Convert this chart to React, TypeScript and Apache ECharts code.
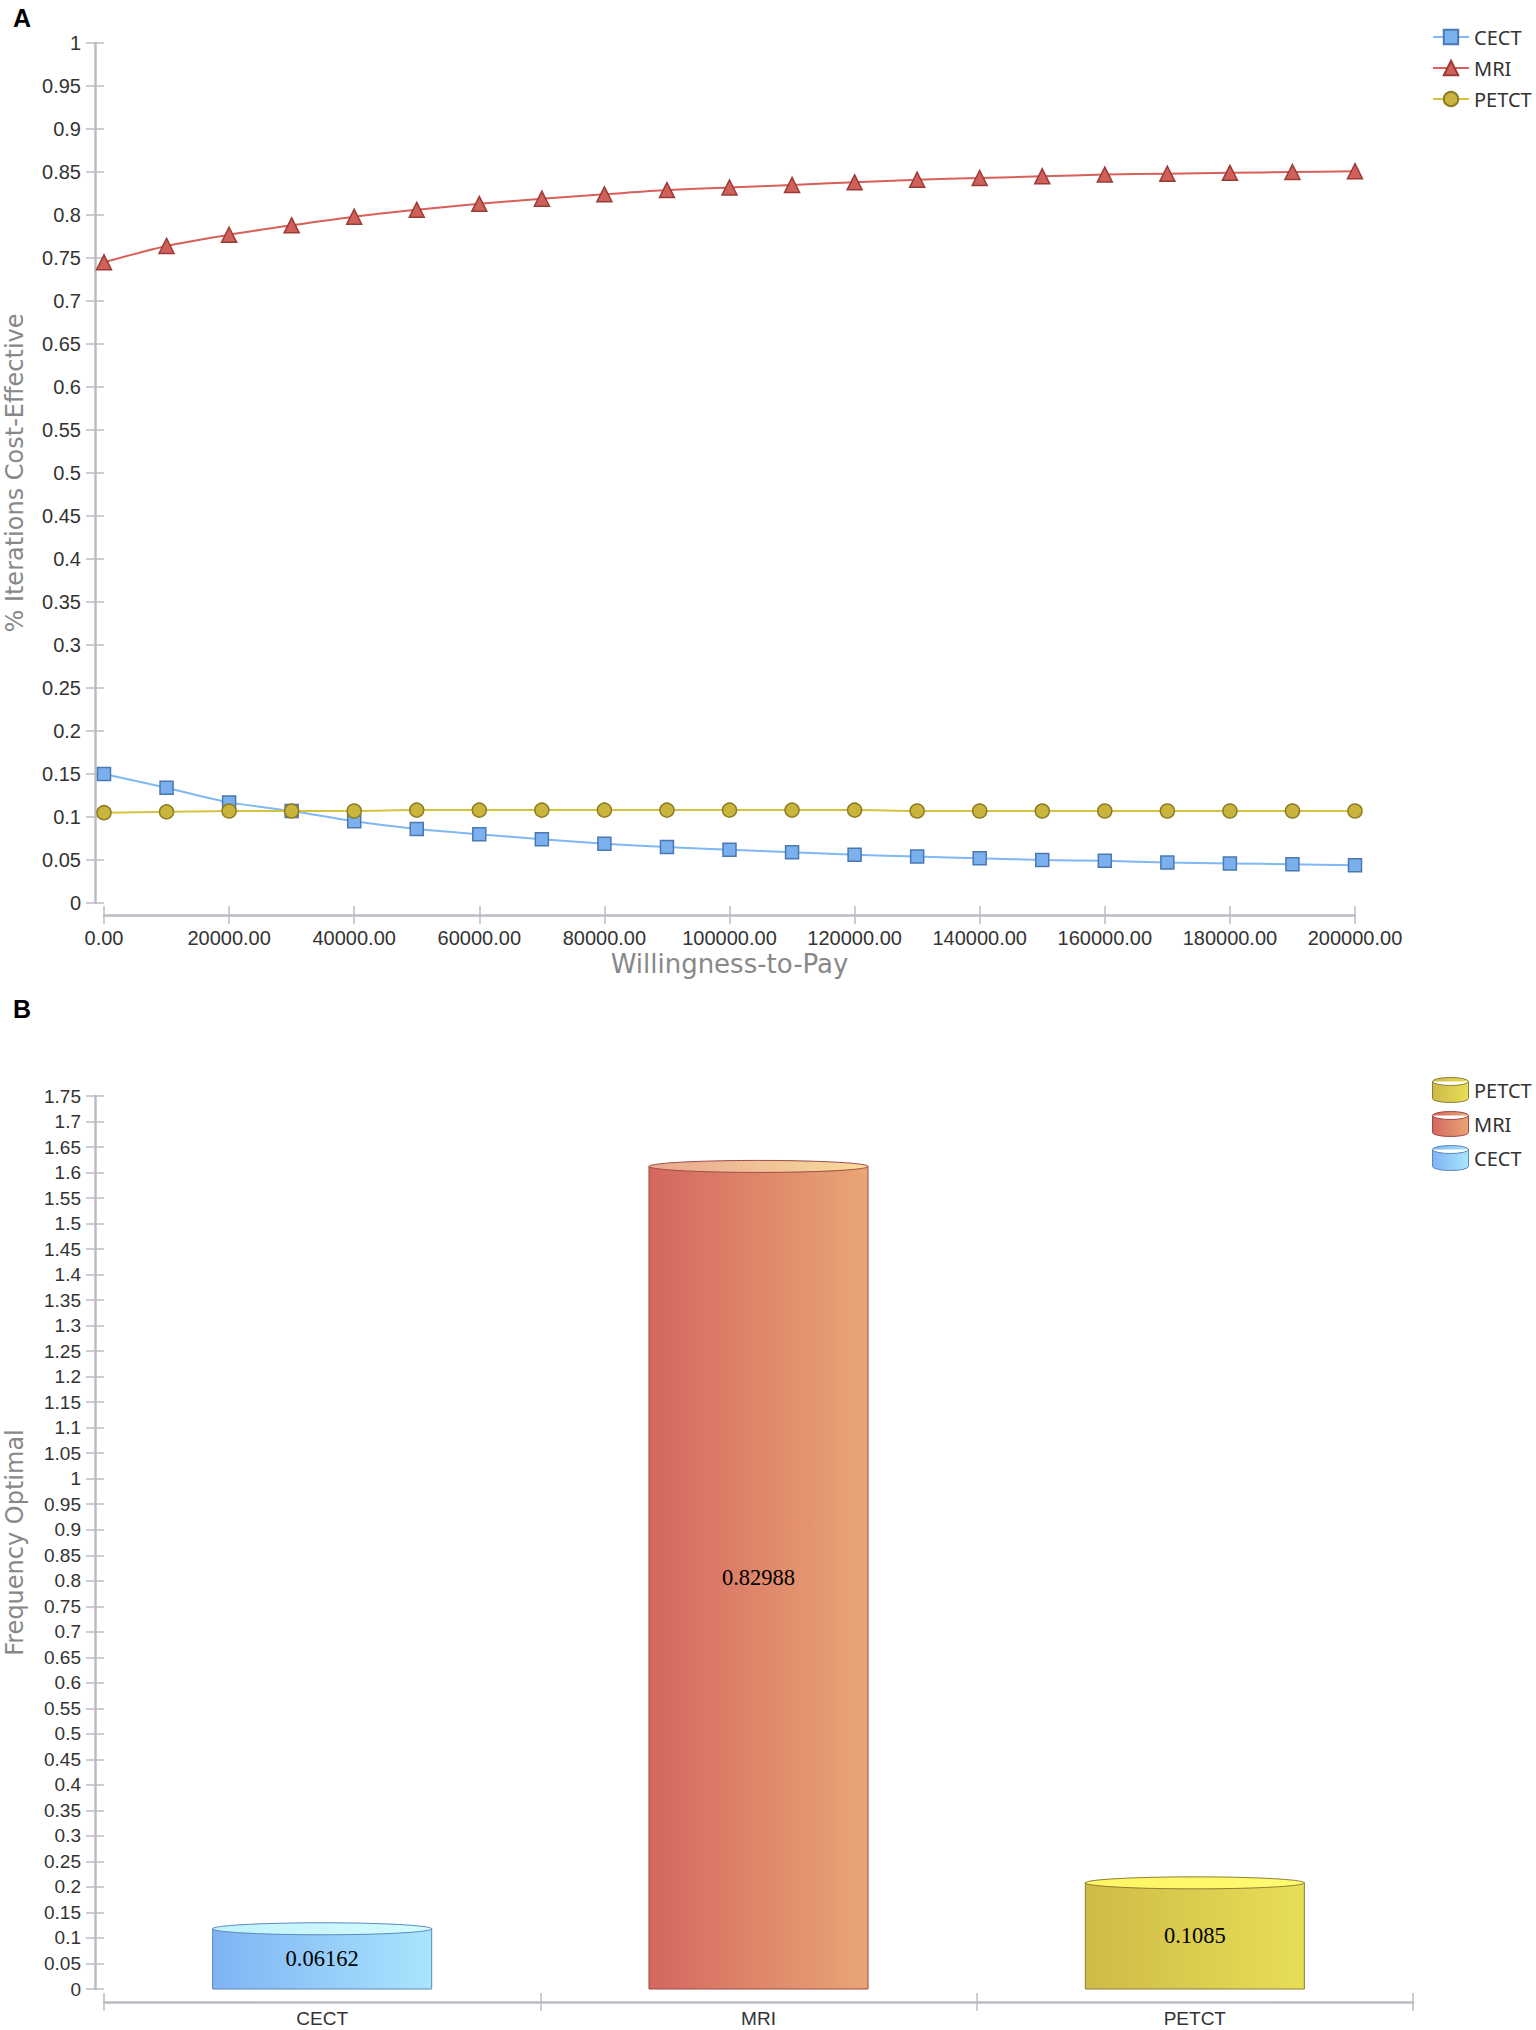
import React, { useEffect, useRef } from "react";
import * as echarts from "echarts";

// ---------- Data: panel A (cost-effectiveness acceptability curves) ----------
const wtp = [
  0, 10000, 20000, 30000, 40000, 50000, 60000, 70000, 80000, 90000, 100000,
  110000, 120000, 130000, 140000, 150000, 160000, 170000, 180000, 190000, 200000,
];
const cectCurve = [
  0.15, 0.134, 0.117, 0.107, 0.095, 0.086, 0.08, 0.074, 0.069, 0.065, 0.062,
  0.059, 0.056, 0.054, 0.052, 0.05, 0.049, 0.047, 0.046, 0.045, 0.044,
];
const mriCurve = [
  0.745, 0.764, 0.777, 0.788, 0.798, 0.806, 0.813, 0.819, 0.824, 0.829, 0.832,
  0.835, 0.838, 0.841, 0.843, 0.845, 0.847, 0.848, 0.849, 0.85, 0.851,
];
const petctCurve = [
  0.105, 0.106, 0.107, 0.107, 0.107, 0.108, 0.108, 0.108, 0.108, 0.108, 0.108,
  0.108, 0.108, 0.107, 0.107, 0.107, 0.107, 0.107, 0.107, 0.107, 0.107,
];
const curveNames = ["CECT", "MRI", "PETCT"];

// ---------- Data: panel B (frequency optimal) ----------
const strategies = ["CECT", "MRI", "PETCT"];
const barHeights = [0.118, 1.612, 0.208];
const barLabels = ["0.06162", "0.82988", "0.1085"];
const legendOrderB = ["PETCT", "MRI", "CECT"];

// ---------- Styles ----------
const AXIS_C = "#bbbbc3";
const LABEL_C = "#333333";
const NAME_C = "#888888";
const SANS = "Liberation Sans";

const lineStyles: Record<string, any> = {
  CECT: { line: "#7fb8f5", fill: "#7ab0ee", stroke: "#4a78b0", symbol: "rect", size: 13 },
  MRI: { line: "#d9605a", fill: "#d0605a", stroke: "#9a3b35", symbol: "triangle", size: 15 },
  PETCT: { line: "#d6c23c", fill: "#c9b43c", stroke: "#8c7a22", symbol: "circle", size: 14 },
};

const cylStyles: Record<string, any> = {
  CECT: { left: "#80b3f4", right: "#a9e5fd", topL: "#c2f3fb", topR: "#d3fbfd", stroke: "#5a88c0" },
  MRI: { left: "#d4675f", right: "#e9a676", topL: "#e9a88f", topR: "#f7dc9c", stroke: "#a04a42" },
  PETCT: { left: "#cfba48", right: "#e7de56", topL: "#fff465", topR: "#fffb70", stroke: "#8a7e36" },
};

const hGrad = (a: string, b: string) =>
  new echarts.graphic.LinearGradient(0, 0, 1, 0, [
    { offset: 0, color: a },
    { offset: 1, color: b },
  ]);

const cylPath =
  "path://M0,4 A18,4 0 0,1 36,4 L36,21 A18,4 0 0,1 0,21 Z M0,4 A18,4 0 0,0 36,4";

function App() {
  const ref = useRef<HTMLDivElement>(null);

  useEffect(() => {
    if (!ref.current) return;
    const chart = echarts.init(ref.current, undefined, { renderer: "svg" });

    const gridA = { left: 104, top: 43, width: 1251, height: 860, outerBoundsMode: "none", containLabel: false };
    const gridB = { left: 104, top: 1096, width: 1309, height: 893, outerBoundsMode: "none", containLabel: false };

    const tickStyle = { color: AXIS_C, width: 1.5 };
    const axisLine = { show: true, onZero: false, lineStyle: { color: AXIS_C, width: 2.5 } };
    const hiddenLine = { show: false, onZero: false };

    const lineSeries = curveNames.map((name, k) => {
      const st = lineStyles[name];
      const vals = [cectCurve, mriCurve, petctCurve][k];
      return {
        type: "line",
        name,
        xAxisIndex: 0,
        yAxisIndex: 0,
        smooth: 0.3,
        symbol: st.symbol,
        symbolSize: st.size,
        showAllSymbol: true,
        lineStyle: { color: st.line, width: 2 },
        itemStyle: { color: st.fill, borderColor: st.stroke, borderWidth: 1.5 },
        data: wtp.map((x, i) => [x, vals[i]]),
      };
    });

    const cylSeries = strategies.map((name, i) => {
      const st = cylStyles[name];
      return {
        type: "custom",
        name,
        xAxisIndex: 1,
        yAxisIndex: 1,
        encode: { x: 0, y: 1 },
        data: [[i, barHeights[i]]],
        renderItem: (params: any, api: any) => {
          const idx = api.value(0);
          const v = api.value(1);
          const top = api.coord([idx, v]);
          const bot = api.coord([idx, 0]);
          const band = api.size([1, 0])[0];
          const w = band * 0.502;
          const x0 = top[0] - w / 2;
          return {
            type: "group",
            children: [
              {
                type: "rect",
                shape: { x: x0, y: top[1], width: w, height: bot[1] - top[1] },
                style: { fill: hGrad(st.left, st.right), stroke: st.stroke, lineWidth: 1 },
              },
              {
                type: "ellipse",
                shape: { cx: top[0], cy: top[1], rx: w / 2, ry: 6 },
                style: { fill: hGrad(st.topL, st.topR), stroke: st.stroke, lineWidth: 1 },
              },
              {
                type: "text",
                x: top[0],
                y: (top[1] + bot[1]) / 2,
                style: {
                  text: barLabels[i],
                  fill: "#000",
                  fontSize: 22.5,
                  fontFamily: "Liberation Serif",
                  align: "center",
                  verticalAlign: "middle",
                },
              },
            ],
          };
        },
      };
    });

    const option: any = {
      animation: false,
      backgroundColor: "#ffffff",
      title: [
        {
          text: "A",
          left: 8,
          top: 0,
          textStyle: { fontSize: 25, fontWeight: "bold", fontFamily: SANS, color: "#000" },
        },
        {
          text: "B",
          left: 8,
          top: 991,
          textStyle: { fontSize: 25, fontWeight: "bold", fontFamily: SANS, color: "#000" },
        },
      ],
      legend: [
        {
          orient: "vertical",
          left: 1427,
          top: 22,
          itemWidth: 36,
          itemHeight: 18,
          itemGap: 11,
          textStyle: { fontSize: 20, fontFamily: "Noto Sans", color: LABEL_C },
          data: curveNames,
        },
        {
          orient: "vertical",
          left: 1427,
          top: 1072,
          itemWidth: 37,
          itemHeight: 25,
          itemGap: 8,
          textStyle: { fontSize: 20, fontFamily: "Noto Sans", color: LABEL_C },
          data: legendOrderB.map((n) => ({
            name: n,
            icon: cylPath,
            itemStyle: {
              color: hGrad(cylStyles[n].left, cylStyles[n].right),
              borderColor: cylStyles[n].stroke,
              borderWidth: 1,
            },
          })),
        },
      ],
      grid: [gridA, gridB, gridA, gridB],
      xAxis: [
        {
          type: "value",
          gridIndex: 0,
          min: 0,
          max: 200000,
          interval: 20000,
          offset: 12,
          axisLine,
          axisTick: { show: true, length: 9, lineStyle: tickStyle },
          axisLabel: {
            formatter: (v: number) => v.toFixed(2),
            fontSize: 20,
            fontFamily: SANS,
            color: LABEL_C,
            margin: 13,
          },
          splitLine: { show: false },
          name: "Willingness-to-Pay",
          nameLocation: "middle",
          nameGap: 36,
          nameMoveOverlap: false,
          nameTextStyle: { fontSize: 26, fontFamily: "DejaVu Sans", color: NAME_C },
        },
        {
          type: "category",
          gridIndex: 1,
          data: strategies,
          offset: 13,
          axisLine,
          axisTick: { show: true, length: 9, lineStyle: tickStyle },
          axisLabel: { fontSize: 19, fontFamily: SANS, color: LABEL_C, margin: 7 },
          splitLine: { show: false },
        },
        {
          type: "value",
          gridIndex: 2,
          min: 0,
          max: 200000,
          interval: 20000,
          offset: 12,
          axisLine: hiddenLine,
          axisTick: { show: true, inside: true, length: 9, lineStyle: tickStyle },
          axisLabel: { show: false },
          splitLine: { show: false },
        },
        {
          type: "category",
          gridIndex: 3,
          data: strategies,
          offset: 13,
          axisLine: hiddenLine,
          axisTick: { show: true, inside: true, length: 9, lineStyle: tickStyle },
          axisLabel: { show: false },
          splitLine: { show: false },
        },
      ],
      yAxis: [
        {
          type: "value",
          gridIndex: 0,
          min: 0,
          max: 1,
          interval: 0.05,
          offset: 9,
          axisLine,
          axisTick: { show: true, length: 9, lineStyle: tickStyle },
          axisLabel: { fontSize: 20, fontFamily: SANS, color: LABEL_C, margin: 14 },
          splitLine: { show: false },
          name: "% Iterations Cost-Effective",
          nameLocation: "middle",
          nameRotate: 90,
          nameGap: 68,
          nameMoveOverlap: false,
          nameTextStyle: { fontSize: 24, fontFamily: "DejaVu Sans", color: NAME_C },
        },
        {
          type: "value",
          gridIndex: 1,
          min: 0,
          max: 1.75,
          interval: 0.05,
          offset: 9,
          axisLine,
          axisTick: { show: true, length: 9, lineStyle: tickStyle },
          axisLabel: { fontSize: 19, fontFamily: SANS, color: LABEL_C, margin: 14 },
          splitLine: { show: false },
          name: "Frequency Optimal",
          nameLocation: "middle",
          nameRotate: 90,
          nameGap: 68,
          nameMoveOverlap: false,
          nameTextStyle: { fontSize: 24, fontFamily: "DejaVu Sans", color: NAME_C },
        },
        {
          type: "value",
          gridIndex: 2,
          min: 0,
          max: 1,
          interval: 0.05,
          offset: 9,
          axisLine: hiddenLine,
          axisTick: { show: true, inside: true, length: 9, lineStyle: tickStyle },
          axisLabel: { show: false },
          splitLine: { show: false },
        },
        {
          type: "value",
          gridIndex: 3,
          min: 0,
          max: 1.75,
          interval: 0.05,
          offset: 9,
          axisLine: hiddenLine,
          axisTick: { show: true, inside: true, length: 9, lineStyle: tickStyle },
          axisLabel: { show: false },
          splitLine: { show: false },
        },
      ],
      series: [...lineSeries, ...cylSeries],
    };

    chart.setOption(option);
    return () => chart.dispose();
  }, []);

  return (
    <div
      ref={ref}
      style={{ position: "absolute", left: 0, top: 0, width: 1536, height: 2030, background: "#fff" }}
    />
  );
}

export default App;
